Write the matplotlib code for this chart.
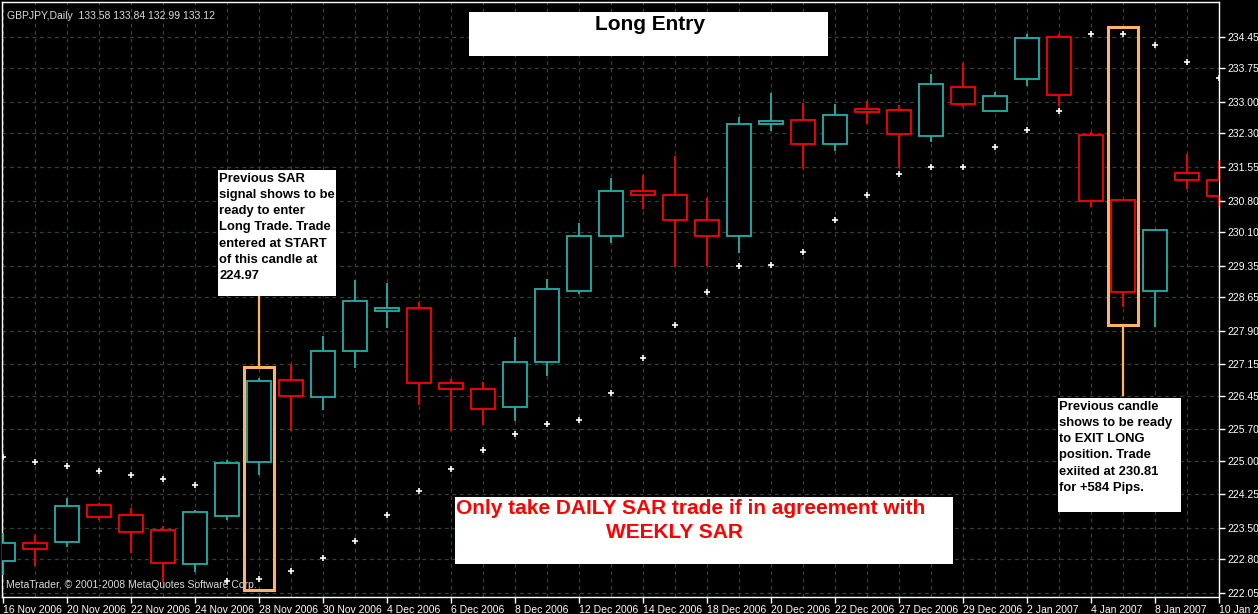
import numpy as np
import matplotlib.pyplot as plt
from matplotlib.patches import Rectangle

# GBPJPY daily bars, 16 Nov 2006 .. 10 Jan 2007
opens = [222.76, 223.17, 223.19, 224.01, 223.79, 223.46, 222.70, 223.77, 224.97, 226.80,
         226.42, 227.45, 228.34, 228.41, 226.73, 226.60, 226.20, 227.20, 228.79, 230.01,
         231.02, 230.93, 230.37, 230.01, 232.51, 232.60, 232.06, 232.84, 232.82, 232.24,
         233.34, 232.80, 233.51, 234.45, 232.26, 230.81, 228.79, 231.42, 231.26]
highs = [223.39, 223.34, 224.17, 224.06, 223.95, 223.55, 223.90, 225.02, 226.85, 227.16,
         227.78, 229.03, 228.96, 228.54, 226.82, 226.76, 227.76, 229.05, 230.30, 231.31,
         231.37, 231.80, 230.86, 232.67, 233.20, 232.98, 232.96, 233.02, 232.93, 233.62,
         233.87, 233.22, 234.52, 234.52, 232.33, 230.84, 230.15, 231.84, 231.71]
lows = [222.45, 222.65, 223.08, 223.68, 222.94, 222.30, 222.52, 223.68, 224.68, 225.66,
        226.13, 227.07, 227.96, 226.24, 225.66, 225.80, 225.89, 226.89, 228.72, 229.86,
        230.61, 229.32, 229.34, 229.63, 232.35, 231.51, 231.91, 232.51, 231.53, 232.11,
        232.89, 232.80, 233.36, 232.91, 230.66, 228.43, 227.98, 231.06, 230.66]
closes = [223.17, 223.03, 223.99, 223.75, 223.41, 222.72, 223.86, 224.95, 226.78, 226.44,
          227.45, 228.56, 228.41, 226.73, 226.60, 226.15, 227.20, 228.83, 230.01, 231.02,
          230.93, 230.37, 230.01, 232.51, 232.58, 232.06, 232.71, 232.78, 232.29, 233.40,
          232.96, 233.13, 234.43, 233.16, 230.79, 228.76, 230.15, 231.26, 230.90]
sar = [225.08, 224.97, 224.88, 224.77, 224.68, 224.59, 224.46, 222.32, 222.36, 222.54,
       222.83, 223.21, 223.79, 224.33, 224.82, 225.24, 225.60, 225.82, 225.91, 226.51,
       227.29, 228.03, 228.76, 229.34, 229.37, 229.66, 230.37, 230.93, 231.40, 231.55,
       231.55, 232.00, 232.38, 232.80, 234.52, 234.52, 234.27, 233.89, 233.54]

date_labels = ['16 Nov 2006', '20 Nov 2006', '22 Nov 2006', '24 Nov 2006', '28 Nov 2006',
               '30 Nov 2006', '4 Dec 2006', '6 Dec 2006', '8 Dec 2006', '12 Dec 2006',
               '14 Dec 2006', '18 Dec 2006', '20 Dec 2006', '22 Dec 2006', '27 Dec 2006',
               '29 Dec 2006', '2 Jan 2007', '4 Jan 2007', '8 Jan 2007', '10 Jan 2007']
price_ticks = [234.45, 233.75, 233.00, 232.30, 231.55, 230.80, 230.10, 229.35, 228.65,
               227.90, 227.15, 226.45, 225.70, 225.00, 224.25, 223.50, 222.80, 222.05]

entry_bar, exit_bar = 8, 35

W, H = 1258, 614
BULL = '#20B2AA'
BEAR = '#FF0000'
ORANGE = '#FFB366'
GRID = '#2E4438'

def fx(x):
    return x / W

def fy(y):
    return 1 - y / H

fig = plt.figure(figsize=(W / 100, H / 100), dpi=100, facecolor='black')
ax = fig.add_axes([fx(2), fy(597), (1219 - 2) / W, (597 - 2) / H])
ax.set_facecolor('black')

n = len(opens)
idx = np.arange(n)
bw = 0.77
for i in idx:
    o, h, l, c = opens[i], highs[i], lows[i], closes[i]
    col = BULL if c >= o else BEAR
    ax.vlines(i, l, h, color=col, lw=1.3, zorder=3)
    ax.add_patch(Rectangle((i - bw / 2, min(o, c)), bw, max(abs(c - o), 0.02),
                           facecolor='black', edgecolor=col, lw=1.3, zorder=4))

ax.plot(idx, sar, linestyle='None', marker='+', color='white', markersize=4,
        markeredgewidth=1.2, zorder=5)

ax.set_xlim(-1 / 32, n - 1)
ax.set_ylim(221.96, 235.23)

# grid
for i in idx:
    ax.axvline(i, color=GRID, lw=0.9, ls=(0, (3, 3)), zorder=1)
for p in price_ticks:
    ax.axhline(p, color=GRID, lw=0.9, ls=(0, (3, 3)), zorder=1)

ax.set_xticks(idx[::2])
ax.set_xticklabels(date_labels, ha='left')
ax.yaxis.tick_right()
ax.set_yticks(price_ticks)
ax.set_yticklabels([f'{p:.2f}' for p in price_ticks])
ax.tick_params(colors='white', labelsize=7.5, length=4, width=1, pad=2)
for lab in ax.get_xticklabels() + ax.get_yticklabels():
    lab.set_family('Liberation Sans')
    lab.set_color('white')
for s in ax.spines.values():
    s.set_color('white')
    s.set_linewidth(1)

ax.text(0.004, 0.985, 'GBPJPY,Daily  133.58 133.84 132.99 133.12', transform=ax.transAxes,
        color='#dddddd', fontsize=7.5, family='Liberation Sans', va='top', ha='left', zorder=6)
ax.text(0.003, 0.012, 'MetaTrader, \u00a9 2001-2008 MetaQuotes Software Corp.',
        transform=ax.transAxes, color='#dddddd', fontsize=7.5, family='Liberation Sans',
        va='bottom', ha='left', zorder=6)

# orange highlight boxes and connectors
ax.add_patch(Rectangle((entry_bar - 0.47, 222.12), 0.94, 227.09 - 222.12, fill=False,
                       edgecolor=ORANGE, lw=2.2, zorder=6))
ax.add_patch(Rectangle((exit_bar - 0.47, 228.03), 0.94, 234.67 - 228.03, fill=False,
                       edgecolor=ORANGE, lw=2.2, zorder=6))
ax.plot([entry_bar, entry_bar], [227.09, 228.72], color=ORANGE, lw=1.6, zorder=6)
ax.plot([exit_bar, exit_bar], [228.03, 226.47], color=ORANGE, lw=1.6, zorder=6)

# white annotation panels (figure pixel layout)
def panel(x0, y0, x1, y1):
    fig.add_artist(Rectangle((fx(x0), fy(y1)), fx(x1 - x0), (y1 - y0) / H,
                             transform=fig.transFigure, facecolor='white',
                             edgecolor='none', zorder=10))

panel(469, 12, 828, 56)
fig.text(fx(650), fy(24), 'Long Entry', ha='center', va='center', fontsize=15,
         fontweight='bold', family='Liberation Sans', color='black', zorder=11)

panel(455, 497, 953, 564)
fig.text(fx(456), fy(509), 'Only take DAILY SAR trade if in agreement with', ha='left',
         va='center', fontsize=15, fontweight='bold', family='Liberation Sans',
         color='#FF0000', zorder=11)
fig.text(fx(674), fy(533), 'WEEKLY SAR', ha='center', va='center', fontsize=15,
         fontweight='bold', family='Liberation Sans', color='#FF0000', zorder=11)

panel(218, 170, 336, 296)
fig.text(fx(219), fy(173), 'Previous SAR\nsignal shows to be\nready to enter\nLong Trade. Trade\n'
         'entered at START\nof this candle at\n224.97', ha='left', va='top', fontsize=9.4,
         fontweight='bold', family='Liberation Sans', color='black', linespacing=1.46,
         zorder=11)

panel(1058, 398, 1181, 512)
fig.text(fx(1059), fy(401), 'Previous candle\nshows to be ready\nto EXIT LONG\nposition. Trade\n'
         'exiited at 230.81\nfor +584 Pips.', ha='left', va='top', fontsize=9.4,
         fontweight='bold', family='Liberation Sans', color='black', linespacing=1.46,
         zorder=11)

fig.savefig('out.png', dpi=100, facecolor='black')
